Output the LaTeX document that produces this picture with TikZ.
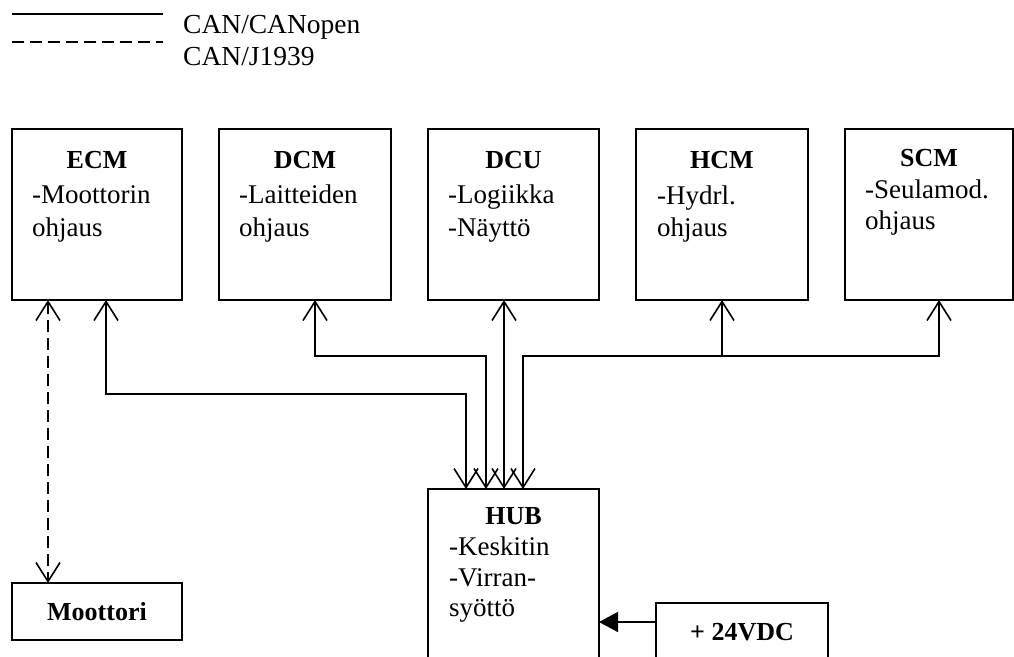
\documentclass[tikz,border=0pt]{standalone}
\usepackage{fontspec}
\setmainfont{Liberation Serif}
\usetikzlibrary{arrows.meta}
\tikzset{
  box/.style={draw, line width=1.6pt, inner sep=0pt, outer sep=0pt, anchor=north west},
  ttl/.style={anchor=base, inner sep=0pt, font=\fontsize{26}{31}\selectfont\bfseries},
  txt/.style={anchor=base west, inner sep=0pt, font=\fontsize{27}{32}\selectfont},
  legtxt/.style={anchor=base west, inner sep=0pt, font=\fontsize{27.5}{33}\selectfont},
  conn/.style={line width=1.6pt, {Straight Barb[length=19pt,width=24pt]}-{Straight Barb[length=19pt,width=24pt]}},
  oneway/.style={line width=1.6pt, -{Straight Barb[length=19pt,width=24pt]}},
  canj/.style={line width=1.6pt, dash pattern=on 12pt off 6pt},
  power/.style={line width=1.6pt, -{Triangle[length=19pt,width=20pt]}}
}
\begin{document}
\begin{tikzpicture}[x=1pt,y=-1pt]
\path[use as bounding box] (0,0) rectangle (1014,656);
\clip (0,0) rectangle (1014,656);
% legend
\coordinate (l1a) at (12,14); \coordinate (l1b) at (163,14);
\coordinate (l2a) at (12,42); \coordinate (l2b) at (163,42);
\draw[line width=1.6pt] (l1a) -- (l1b);
\draw[canj] (l2a) -- (l2b);
\node[legtxt] (leg1) at (183,33) {CAN/CANopen};
\node[legtxt] (leg2) at (183,65) {CAN/J1939};
% boxes
\node[box, minimum width=170, minimum height=171] (ecm) at (12,129) {};
\node[box, minimum width=172, minimum height=171] (dcm) at (219,129) {};
\node[box, minimum width=171, minimum height=171] (dcu) at (428,129) {};
\node[box, minimum width=172, minimum height=171] (hcm) at (636,129) {};
\node[box, minimum width=168, minimum height=171] (scm) at (845,129) {};
\node[box, minimum width=171, minimum height=220] (hub) at (428,489) {};
\node[box, minimum width=170, minimum height=57] (moot) at (12,583) {};
\node[box, minimum width=172, minimum height=100] (vdc) at (656,603) {};
% texts
\node[ttl] (ecmT) at (97,168) {ECM};
\node[txt] (ecmA) at (32,203) {-Moottorin};
\node[txt] (ecmB) at (32,236) {ohjaus};
\node[ttl] (dcmT) at (305,168) {DCM};
\node[txt] (dcmA) at (239,203) {-Laitteiden};
\node[txt] (dcmB) at (239,236) {ohjaus};
\node[ttl] (dcuT) at (513.5,168) {DCU};
\node[txt] (dcuA) at (448,203) {-Logiikka};
\node[txt] (dcuB) at (448,236) {-Näyttö};
\node[ttl] (hcmT) at (722,168) {HCM};
\node[txt] (hcmA) at (657,204) {-Hydrl.};
\node[txt] (hcmB) at (657,236) {ohjaus};
\node[ttl] (scmT) at (929,166) {SCM};
\node[txt] (scmA) at (865,198) {-Seulamod.};
\node[txt] (scmB) at (865,229) {ohjaus};
\node[ttl] (hubT) at (513.5,524) {HUB};
\node[txt] (hubA) at (449,555) {-Keskitin};
\node[txt] (hubB) at (449,586) {-Virran-};
\node[txt] (hubC) at (449,616) {syöttö};
\node[ttl] (mootT) at (97,620) {Moottori};
\node[ttl] (vdcT) at (742,640) {+ 24VDC};
% connectors
\draw[canj, {Straight Barb[length=19pt,width=24pt]}-{Straight Barb[length=19pt,width=24pt]}]
  ([xshift=-49pt]ecm.south) -- ([xshift=-49pt]moot.north);
\draw[conn] ([xshift=9pt]ecm.south) -- ++(0,94) -| ([xshift=-47.5pt]hub.north);
\draw[conn] ([xshift=10pt]dcm.south) -- ++(0,56) -| ([xshift=-27.5pt]hub.north);
\draw[conn] ([xshift=-9.5pt]dcu.south) -- ([xshift=-9.5pt]hub.north);
\draw[conn] ([xshift=9.5pt]hub.north) -- ++(0,-133) -| ([xshift=10pt]scm.south);
\coordinate (hcmjoin) at ([yshift=-56pt]hcm.south);
\draw[oneway] (hcmjoin) -- (hcm.south);
\draw[power] ([yshift=-19pt]vdc.north west) -- ([yshift=-19pt]vdc.north west -| hub.east);
\end{tikzpicture}
\end{document}
